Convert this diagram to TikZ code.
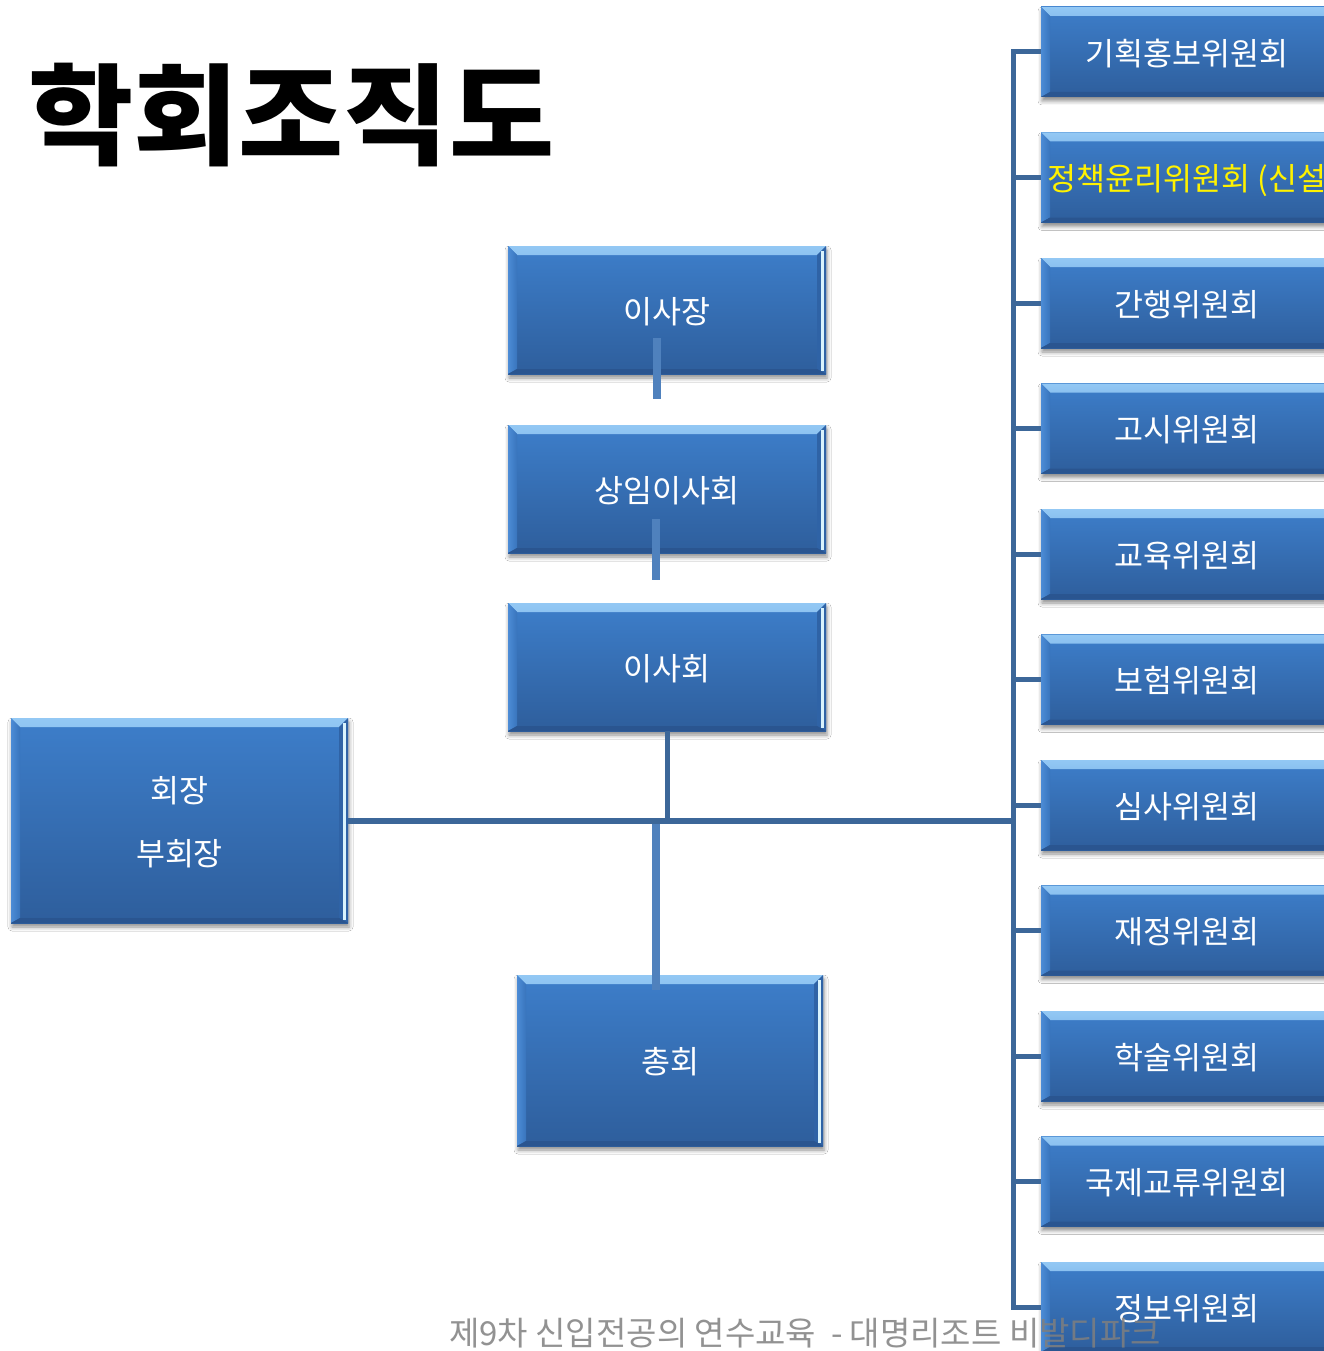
\documentclass[tikz,border=0pt]{standalone}
\usepackage{fontspec}
\setmainfont{Noto Sans CJK KR}
\usetikzlibrary{shadows.blur}
\definecolor{boxtop}{HTML}{3D7ECA}
\definecolor{boxbot}{HTML}{2E5E9C}
\definecolor{bevhi}{HTML}{93C8F4}
\definecolor{bevleft}{HTML}{4C8CD6}
\definecolor{bevright}{HTML}{2F63A6}
\definecolor{bevbot}{HTML}{2A5590}
\definecolor{lineDk}{HTML}{3C6799}
\definecolor{lineLt}{HTML}{4F81BD}
\definecolor{footgray}{HTML}{7F7F7F}
\def\ppb{path picture bounding box}
\tikzset{
  orgbox/.style={rectangle, inner sep=0pt, text=white, align=center,
    font=\fontsize{31.5}{63}\selectfont, text depth=0pt,
    top color=boxtop, bottom color=boxbot, draw=none,
    blur shadow={shadow xshift=1pt, shadow yshift=-4pt, shadow blur radius=4pt, shadow opacity=45},
    path picture={
      \shade[top color=bevhi, bottom color=boxtop]
        (\ppb.north west) -- (\ppb.north east) -- ([shift={(-9pt,-9pt)}]\ppb.north east)
        -- ([shift={(9pt,-9pt)}]\ppb.north west) -- cycle;
      \shade[left color=bevleft, right color=boxtop!70!boxbot]
        (\ppb.north west) -- ([shift={(9pt,-9pt)}]\ppb.north west)
        -- ([shift={(9pt,5pt)}]\ppb.south west) -- (\ppb.south west) -- cycle;
      \fill[bevright]
        (\ppb.north east) -- ([shift={(-9pt,-9pt)}]\ppb.north east)
        -- ([shift={(-9pt,5pt)}]\ppb.south east) -- (\ppb.south east) -- cycle;
      \fill[white!85!cyan]
        ([shift={(-5pt,-5pt)}]\ppb.north east) rectangle ([shift={(-2pt,3pt)}]\ppb.south east);
      \fill[bevbot]
        (\ppb.south west) -- ([shift={(9pt,5pt)}]\ppb.south west)
        -- ([shift={(-9pt,5pt)}]\ppb.south east) -- (\ppb.south east) -- cycle;
    }},
  midbox/.style={orgbox, minimum width=318pt, minimum height=128pt},
  combox/.style={orgbox, minimum width=292pt, minimum height=90pt},
  dk/.style={draw=lineDk, line width=5pt, line join=miter},
  lt/.style={draw=lineLt, line width=8pt},
}
\begin{document}
\begin{tikzpicture}[x=1pt, y=-1pt]
\clip (0,0) rectangle (1324,1351);
\fill[white] (0,0) rectangle (1324,1351);

% title
\node[anchor=west, inner sep=0pt, xscale=1.04, font=\fontsize{110}{110}\selectfont\bfseries] (title) at (28,115) {학회조직도};

% central column
\node[midbox] (isajang) at (667,310) {이사장};
\node[midbox] (sangim) at (667,489) {상임이사회};
\node[midbox] (isahoe) at (667,667) {이사회};
\node[orgbox, minimum width=337pt, minimum height=205pt] (hz) at (179.5,820.5) {회장\\부회장};
\node[orgbox, minimum width=306pt, minimum height=171pt] (chong) at (670,1060.5) {총회};

% committees
\node[combox] (r1) at (1187,52) {기획홍보위원회};
\node[combox, text=yellow] (r2) at (1187,177.5) {정책윤리위원회 (신설};
\node[combox] (r3) at (1187,303) {간행위원회};
\node[combox] (r4) at (1187,428.5) {고시위원회};
\node[combox] (r5) at (1187,554) {교육위원회};
\node[combox] (r6) at (1187,679.5) {보험위원회};
\node[combox] (r7) at (1187,805) {심사위원회};
\node[combox] (r8) at (1187,930.5) {재정위원회};
\node[combox] (r9) at (1187,1056) {학술위원회};
\node[combox] (r10) at (1187,1181.5) {국제교류위원회};
\node[combox] (r11) at (1187,1307) {정보위원회};

\coordinate (bus) at (1013,52);

% connectors
\draw[dk] (r1.west) -- (r1.west -| bus) -- (r11.west -| bus) -- (r11.west);
\foreach \i in {2,...,10} \draw[dk] (r\i.west) -- (r\i.west -| bus);
\draw[dk, line width=6pt] (hz.east) -- (hz.east -| bus);
\draw[dk] (isahoe.south) -- (isahoe.south |- hz.east);

\draw[lt] ([xshift=-10pt,yshift=36pt]isajang.south) -- ([xshift=-10pt,yshift=-25pt]isajang.south);
\draw[lt] ([xshift=-11pt,yshift=34pt]sangim.south) -- ([xshift=-11pt,yshift=-27pt]sangim.south);
\draw[lt] ([xshift=-14pt,yshift=-15pt]chong.north) -- ([xshift=-14pt,yshift=-3pt]chong.north |- hz.east);

% footer
\node[anchor=west, inner sep=0pt, text=footgray, text opacity=0.85,
  font=\fontsize{33}{36}\selectfont] (foot) at (449,1333) {제9차 신입전공의 연수교육~ - 대명리조트 비발디파크};
\end{tikzpicture}
\end{document}
